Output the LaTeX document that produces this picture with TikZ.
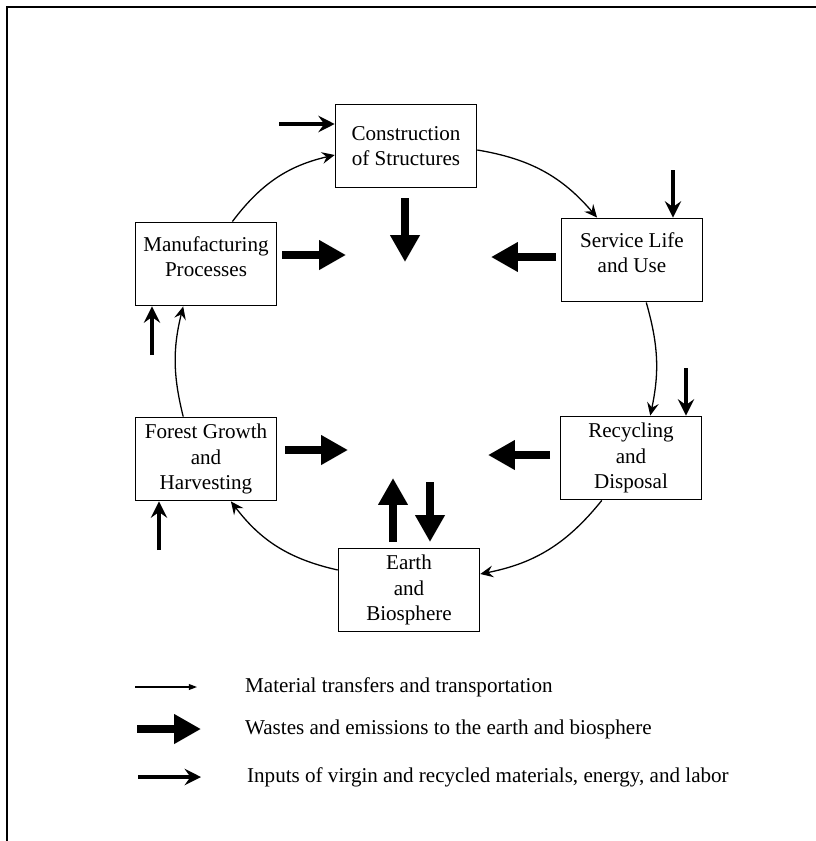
\documentclass[tikz,border=0pt]{standalone}
\usepackage{fontspec}
\setmainfont{Liberation Serif}
\usetikzlibrary{arrows.meta,positioning,calc}

\begin{document}
\begin{tikzpicture}[x=0.03cm,y=0.03cm,
  stage/.style={
    draw,
    line width=1.3pt,
    minimum width=4.23cm,
    minimum height=2.5cm,
    align=center,
    inner sep=2pt,
    font=\fontsize{18}{21.5}\selectfont
  },
  flow/.style={line width=1.1pt, -{Stealth[length=11pt,width=10pt,inset=4pt]}, bend left=20},
  waste/.style={line width=6.5pt, -{Triangle[length=23pt,width=24pt]}},
  input/.style={line width=2.6pt, -{Stealth[length=14pt,width=14pt,inset=5pt]}},
  legtext/.style={anchor=west, font=\fontsize{18}{21.5}\selectfont}
]
\useasboundingbox (0,0) rectangle (816,-841);

% -------- Frame --------
\draw[line width=1.5pt] (7,-841) |- (816,-7);

% -------- Life cycle stages --------
\node[stage] (constr)  at (406,-146) {Construction\\of Structures};
\node[stage] (manuf)   at (206,-264) {Manufacturing\\Processes\\[-9pt]\mbox{}};
\node[stage] (service) at (632,-260) {Service Life\\and Use\\[-9pt]\mbox{}};
\node[stage] (recycl)  at (631,-458) {Recycling\\and\\Disposal};
\node[stage] (forest)  at (206,-459) {Forest Growth\\and\\Harvesting};
\node[stage] (earth)   at (409,-590) {Earth\\and\\Biosphere};

% -------- Material transfers --------
\draw[flow] ($(manuf.north)!0.37!(manuf.north east)$) to ($(constr.west)+(0,-9)$);
\draw[flow] ($(constr.east)+(0,-4)$) to ($(service.north)!0.49!(service.north west)$);
\draw[flow] ($(service.south)!0.2!(service.south east)$) to[bend left=14] ($(recycl.north)!0.27!(recycl.north east)$);
\draw[flow] ($(recycl.south)!0.41!(recycl.south west)$) to ($(earth.east)+(0,16)$);
\draw[flow] ($(earth.west)+(0,20)$) to ($(forest.south)!0.35!(forest.south east)$);
\draw[flow] ($(forest.north)!0.32!(forest.north west)$) to[bend left=14] ($(manuf.south)!0.32!(manuf.south west)$);

% -------- Wastes and emissions --------
\coordinate (cw1) at (405,-198);  \coordinate (cw2) at (405,-262);
\coordinate (mw1) at (282,-255);  \coordinate (mw2) at (346,-255);
\coordinate (sw1) at (556,-257);  \coordinate (sw2) at (491,-257);
\coordinate (fw1) at (285,-450);  \coordinate (fw2) at (348,-450);
\coordinate (rw1) at (550,-455);  \coordinate (rw2) at (488,-455);
\coordinate (eu1) at (393,-542);  \coordinate (eu2) at (393,-478);
\coordinate (ed1) at (430,-482);  \coordinate (ed2) at (430,-542);
\foreach \a/\b in {cw1/cw2, mw1/mw2, sw1/sw2, fw1/fw2, rw1/rw2, eu1/eu2, ed1/ed2}
  \draw[waste] (\a) -- (\b);

% -------- Inputs --------
\coordinate (ci) at (279,-124);
\coordinate (si) at (673,-170);
\coordinate (ri) at (686,-368);
\coordinate (mi) at (152,-355);
\coordinate (fi) at (159,-550);
\draw[input] (ci) -- (constr.west |- ci);
\draw[input] (si) -- (si |- service.north);
\draw[input] (ri) -- (ri |- recycl.north);
\draw[input] (mi) -- (mi |- manuf.south);
\draw[input] (fi) -- (fi |- forest.south);

% -------- Legend --------
\node[legtext] (lg1) at (241,-687) {Material transfers and transportation};
\node[legtext] (lg2) at (241,-729) {Wastes and emissions to the earth and biosphere};
\node[legtext] (lg3) at (243,-777) {Inputs of virgin and recycled materials, energy, and labor};
\coordinate (la) at (135,-687);
\coordinate (lb) at (137,-729);
\coordinate (lc) at (138,-777);
\draw[line width=1.1pt, -{Triangle[length=7pt,width=5pt]}] (la) -- ++(62,0);
\draw[waste] (lb) -- ++(64,0);
\draw[input] (lc) -- ++(63,0);

\end{tikzpicture}
\end{document}
